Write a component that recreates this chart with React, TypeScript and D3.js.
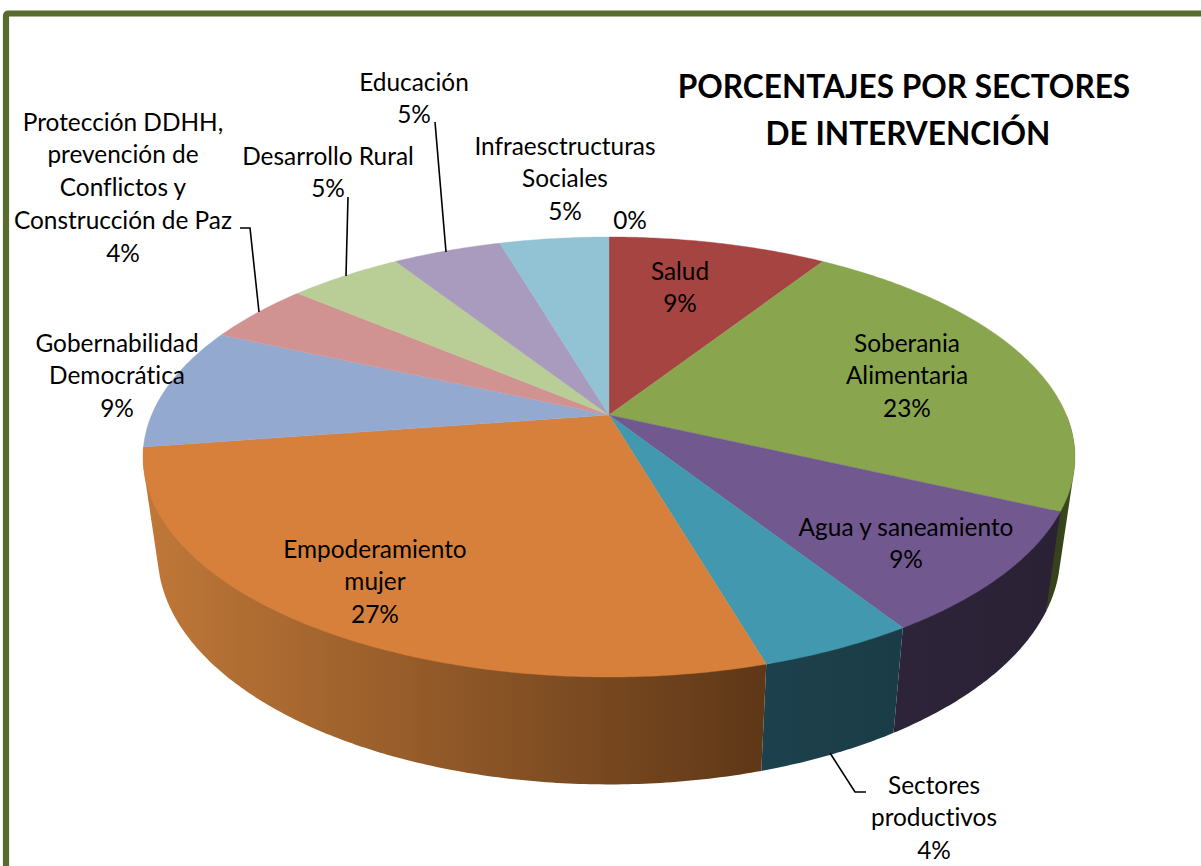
import React from "react";
import * as d3 from "d3";

const categories = ["Salud","Soberania Alimentaria","Agua y saneamiento","Sectores productivos","Empoderamiento mujer","Gobernabilidad Democrática","Protección DDHH, prevención de Conflictos y Construcción de Paz","Desarrollo Rural","Educación","Infraesctructuras Sociales","Otros"];
const sliceValues = [9.12, 22.78, 9.04, 4.53, 27.19, 9.01, 4.48, 4.75, 4.54, 4.56, 0];
const percentLabels = ["9%","23%","9%","4%","27%","9%","4%","5%","5%","5%","0%"];
const titleLines = ["PORCENTAJES POR SECTORES","DE INTERVENCIÓN"];

const topColors = ["#A64442","#89A54E","#71588F","#4198AF","#D6803C","#93A9CF","#D19392","#B9CD96","#A99BBD","#91C3D5","#C0C0C0"];
const wallStops: Record<number,[string,string]> = {
  1: ["#3F4D21","#36421B"],
  2: ["#2A2135","#2E2439"],
  3: ["#1A3C47","#1D414C"],
  4: ["#C07838","#5E3717"],
};

const labelLayout: { lines: string[]; x: number; y: number }[] = [
  { lines:["Salud"], x:680, y:271 },
  { lines:["Soberania","Alimentaria"], x:907, y:343 },
  { lines:["Agua y saneamiento"], x:906, y:527 },
  { lines:["Sectores","productivos"], x:934, y:785 },
  { lines:["Empoderamiento","mujer"], x:375, y:549 },
  { lines:["Gobernabilidad","Democrática"], x:117, y:343 },
  { lines:["Protección DDHH,","prevención de","Conflictos y","Construcción de Paz"], x:123, y:122 },
  { lines:["Desarrollo Rural"], x:328, y:156 },
  { lines:["Educación"], x:414, y:82 },
  { lines:["Infraesctructuras","Sociales"], x:565, y:146 },
  { lines:[], x:630, y:220 },
];
const leaders = [
  [[240,228],[250,228],[259,312]],
  [[348,197],[346,276]],
  [[435,122],[446,252]],
  [[830,753],[855,792],[866,792]],
] as [number,number][][];

const cx = 609, topApexY = 415;
const TOP = { A: 457.4, B: 212, k: 0.191, cy: 415 };
const BOT = { A: 443, B: 222, k: 0.191, cy: 510 };
const project = (p: typeof TOP, a: number): [number,number] => {
  const u = Math.sin(a), v = Math.cos(a), d = 1 + p.k * v;
  return [cx + p.A * u / d, p.cy - p.B * v / d];
};
const arcAngles = (a0: number, a1: number) => {
  const n = Math.max(2, Math.ceil((a1 - a0) / 0.01));
  return d3.range(n + 1).map(i => a0 + (a1 - a0) * i / n);
};
const LINE = 32.8;
const FONT = "Lato, Carlito, Calibri, sans-serif";

export default function App() {
  const arcs = d3.pie<number>().sort(null)(sliceValues);
  const line = d3.line();
  const visStart = Math.PI * 0.5, visEnd = Math.PI * 1.55;
  return (
    <svg width={1201} height={866} style={{position:"absolute",left:0,top:0,background:"#fff",fontVariantLigatures:"none"}}>
      <defs>
        {Object.entries(wallStops).map(([i,[c0,c1]]) => {
          const b = arcs[+i];
          const xs = arcAngles(Math.max(b.startAngle,visStart), Math.min(b.endAngle,visEnd)).map(a=>project(TOP,a)[0]);
          return (
            <linearGradient key={i} id={`wall${i}`} gradientUnits="userSpaceOnUse" x1={d3.min(xs)} x2={d3.max(xs)} y1={0} y2={0}>
              <stop offset="0" stopColor={+i===4?c0:c1}/>
              <stop offset="1" stopColor={+i===4?c1:c0}/>
            </linearGradient>
          );
        })}
      </defs>
      <path d="M6,866 V16 Q6,13.5 8.5,13.5 H1201" fill="none" stroke="#5A6B2E" strokeWidth={6.2}/>
      {arcs.map((s,i) => {
        const a0 = Math.max(s.startAngle,visStart), a1 = Math.min(s.endAngle,visEnd);
        if (a1 <= a0) return null;
        const pts = arcAngles(a0,a1).flatMap(a => [project(TOP,a),project(BOT,a)]);
        const hull = d3.polygonHull(pts)!;
        return <path key={i} d={line(hull)+"Z"} fill={`url(#wall${i})`}/>;
      })}
      {arcs.map((s,i) => {
        if (s.endAngle <= s.startAngle) return null;
        const pts: [number,number][] = [[cx,topApexY],...arcAngles(s.startAngle,s.endAngle).map(a=>project(TOP,a))];
        return <path key={i} d={line(pts)+"Z"} fill={topColors[i]} stroke={topColors[i]} strokeWidth={0.4}/>;
      })}
      {leaders.map((l,i) => <path key={i} d={line(l)!} fill="none" stroke="#000" strokeWidth={1.6}/>)}
      <g fontFamily={FONT} fontSize={24.4} fill="#000" textAnchor="middle">
        {labelLayout.map((l,i) => {
          const all = [...l.lines, percentLabels[i]];
          return (
            <text key={categories[i]} aria-label={categories[i]}>
              {all.map((t,j) => <tspan key={j} x={l.x} y={l.y + j*LINE} dy="0.35em">{t}</tspan>)}
            </text>
          );
        })}
      </g>
      <g fontFamily={FONT} fontSize={31.6} fontWeight={700} fill="#000" textAnchor="middle">
        {titleLines.map((t,i) => <text key={t} x={904+i*4} y={87+i*46.5} dy="0.35em">{t}</text>)}
      </g>
    </svg>
  );
}
